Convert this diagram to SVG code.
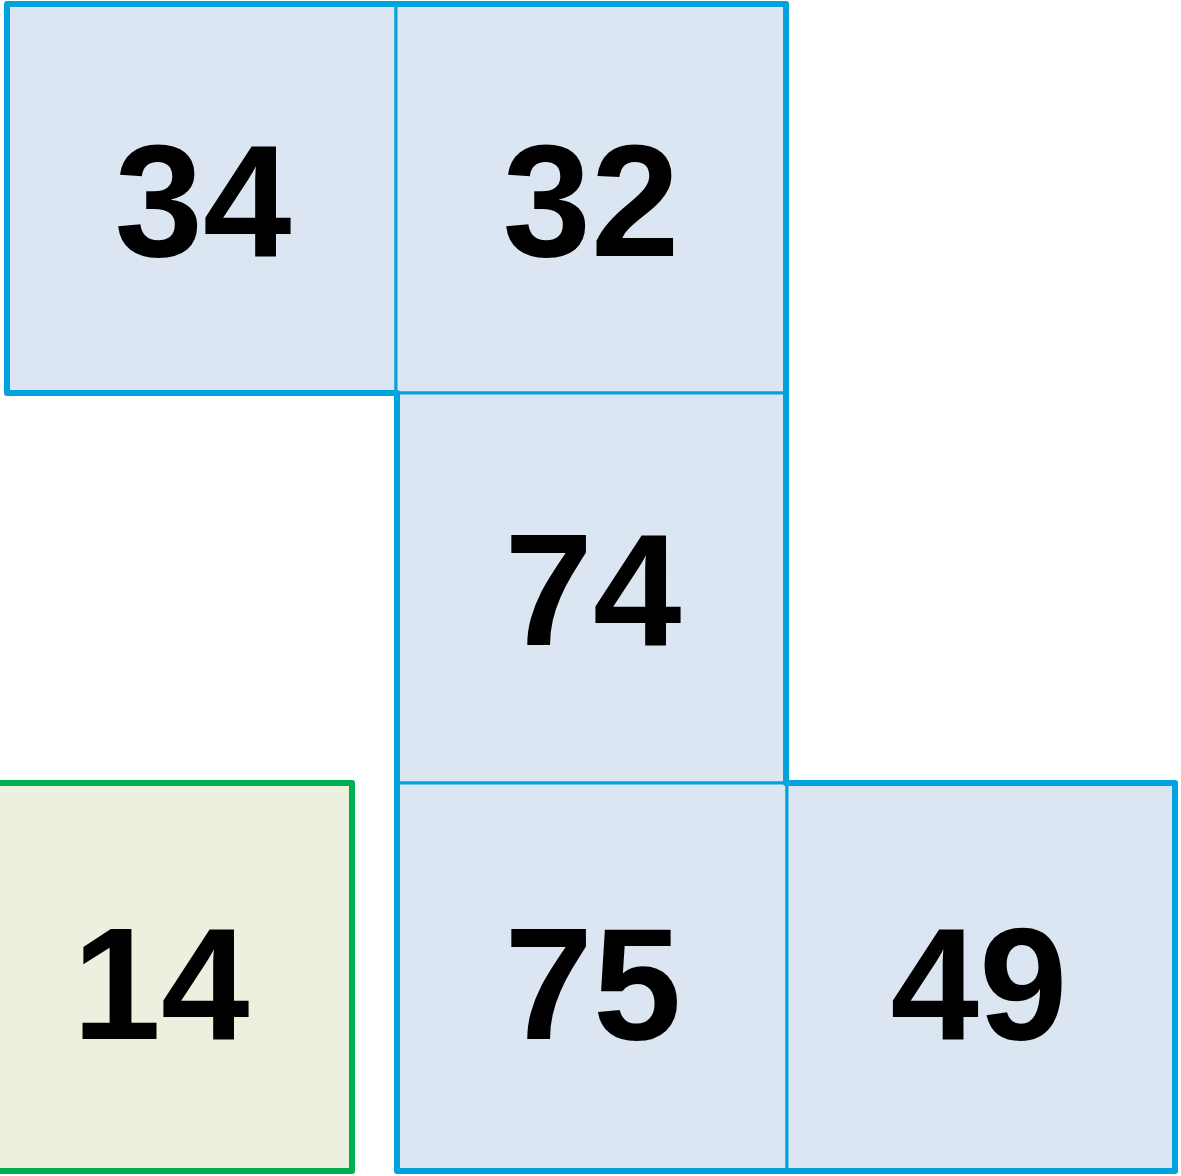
<svg xmlns="http://www.w3.org/2000/svg" width="1181" height="1176" viewBox="0 0 1181 1176">
<style>
.b{fill:#DCE6F2;stroke:#00A3DC;stroke-width:3}
.g{fill:#EBF1DE;stroke:#00B050;stroke-width:6;stroke-linejoin:round}
.o{fill:none;stroke:#00A3DC;stroke-width:6;stroke-linejoin:round}
.t{font-family:"Liberation Sans",Arial,sans-serif;font-weight:bold;font-size:159px;fill:#000;text-anchor:middle}
</style>
<rect width="1181" height="1176" fill="#fff"/>
<g id="cell-34"><rect class="b" x="7" y="4" width="389" height="389"/><text class="t" x="203" y="256">34</text></g>
<g id="cell-32"><rect class="b" x="396" y="4" width="390" height="389"/><text class="t" x="591" y="256">32</text></g>
<g id="cell-74"><rect class="b" x="397" y="393" width="389" height="390"/><text class="t" x="593" y="645">74</text></g>
<g id="cell-75"><rect class="b" x="397" y="783" width="390" height="388"/><text class="t" x="593" y="1039">75</text></g>
<g id="cell-49"><rect class="b" x="787" y="783" width="388" height="388"/><text class="t" x="979" y="1039">49</text></g>
<g id="cell-14"><rect class="g" x="-30" y="783" width="382" height="388"/><text class="t" x="161" y="1039">14</text></g>
<g id="connectors"><path class="o" d="M7,4 H786 V783 H1175 V1171 H397 V393 H7 Z"/></g>
</svg>
